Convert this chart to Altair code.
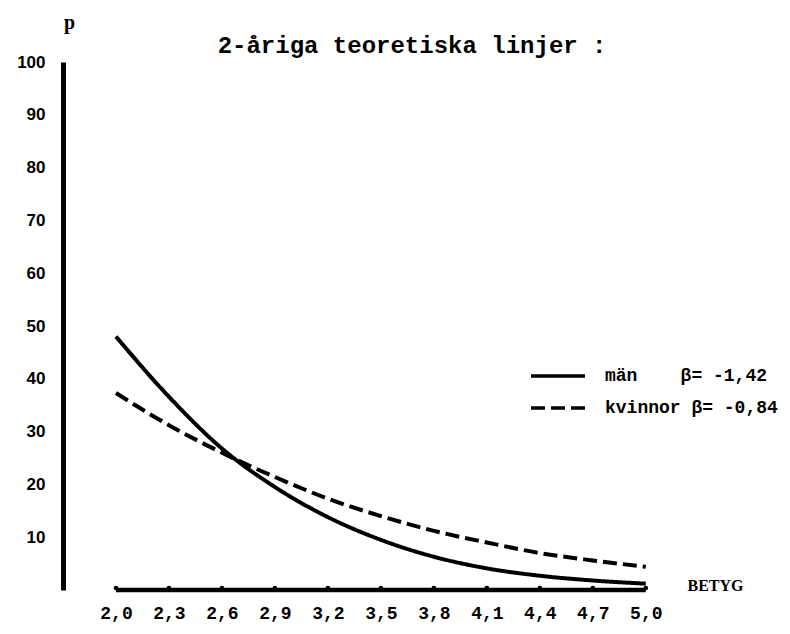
import altair as alt
import pandas as pd

# ---- data ----
betyg = [2.0, 2.3, 2.6, 2.9, 3.2, 3.5, 3.8, 4.1, 4.4, 4.7, 5.0]
man_p = [48.0, 36.6, 26.8, 19.5, 13.8, 9.5, 6.3, 4.1, 2.7, 1.8, 1.2]
kvinnor_p = [37.3, 31.2, 26.0, 21.4, 17.3, 14.0, 11.2, 9.0, 7.0, 5.6, 4.4]
series_names = ["män", "kvinnor"]
beta_texts = ["β= -1,42", "β= -0,84"]
y_ticks = [10, 20, 30, 40, 50, 60, 70, 80, 90, 100]
title_text = "2-åriga teoretiska linjer :"
y_title = "p"
x_title = "BETYG"

NB = "\u00a0"
legend_labels = [
    series_names[0] + NB * 4 + beta_texts[0],
    series_names[1] + NB + beta_texts[1],
]

rows = []
for b, m in zip(betyg, man_p):
    rows.append({"betyg": b, "p": m, "serie": legend_labels[0]})
for b, k in zip(betyg, kvinnor_p):
    rows.append({"betyg": b, "p": k, "serie": legend_labels[1]})
df = pd.DataFrame(rows)

axis_df = pd.DataFrame({"betyg": [betyg[0]], "x1": [betyg[-1]], "p": [0]})
tick_df = pd.DataFrame({"betyg": betyg, "p": [0] * len(betyg)})

x_scale = alt.Scale(domain=[1.7, 5.76], nice=False, zero=False)
y_scale = alt.Scale(domain=[0, 100], nice=False)

x_axis = alt.Axis(values=betyg, domain=False, ticks=False, grid=False,
                  labelExpr="replace(format(datum.value, '.1f'), '.', ',')",
                  labelFont="Liberation Mono", labelFontWeight="bold",
                  labelFontSize=18, labelColor="black", labelPadding=14,
                  title=x_title, titleFont="Liberation Serif", titleFontWeight="bold",
                  titleFontSize=16, titleColor="black", titleX=652, titleY=-5,
                  titleAlign="center", titleBaseline="middle")
y_axis = alt.Axis(values=y_ticks, domain=True, domainColor="black", domainWidth=5,
                  ticks=False, grid=False,
                  labelFont="Liberation Sans", labelFontWeight="bold",
                  labelFontSize=17, labelColor="black", labelPadding=18,
                  title=y_title, titleAngle=0, titleX=6, titleY=-40,
                  titleAlign="center", titleBaseline="middle",
                  titleFont="Liberation Serif", titleFontWeight="bold",
                  titleFontSize=20, titleColor="black")

X = alt.X("betyg:Q", scale=x_scale, axis=x_axis, title=x_title)
Y = alt.Y("p:Q", scale=y_scale, axis=y_axis, title=y_title)

lines = alt.Chart(df).mark_line(color="black", strokeWidth=4, interpolate="monotone").encode(
    x=X,
    y=Y,
    strokeDash=alt.StrokeDash("serie:N",
                              scale=alt.Scale(domain=legend_labels, range=[[1, 0], [14, 6]]),
                              legend=alt.Legend(title=None, orient="none", legendX=484, legendY=303,
                                                symbolType="M-3,0H3", symbolSize=324,
                                                symbolStrokeWidth=3.5, symbolStrokeColor="black",
                                                symbolFillColor="transparent",
                                                labelFont="Liberation Mono", labelFontWeight="bold",
                                                labelFontSize=18, labelColor="black", labelLimit=0,
                                                labelOffset=36, rowPadding=12)),
)

x_rule = alt.Chart(axis_df).mark_rule(color="black", strokeWidth=4.5).encode(
    x=X,
    x2="x1:Q",
    y=Y,
)

x_dots = alt.Chart(tick_df).mark_circle(color="black", size=22, opacity=1, yOffset=-2).encode(
    x=X,
    y=Y,
)

chart = alt.layer(lines, x_rule, x_dots).properties(
    width=717,
    height=528,
    background="white",
    autosize=alt.AutoSizeParams(type="none"),
    padding={"left": 55, "top": 54, "right": 2, "bottom": 40},
    title=alt.TitleParams(title_text, font="Liberation Mono", fontSize=24, fontWeight="bold",
                          color="black", anchor="start", dx=201, dy=50),
).configure_view(stroke=None)

chart.save("out.html", embed_options={"renderer": "svg", "actions": False})
